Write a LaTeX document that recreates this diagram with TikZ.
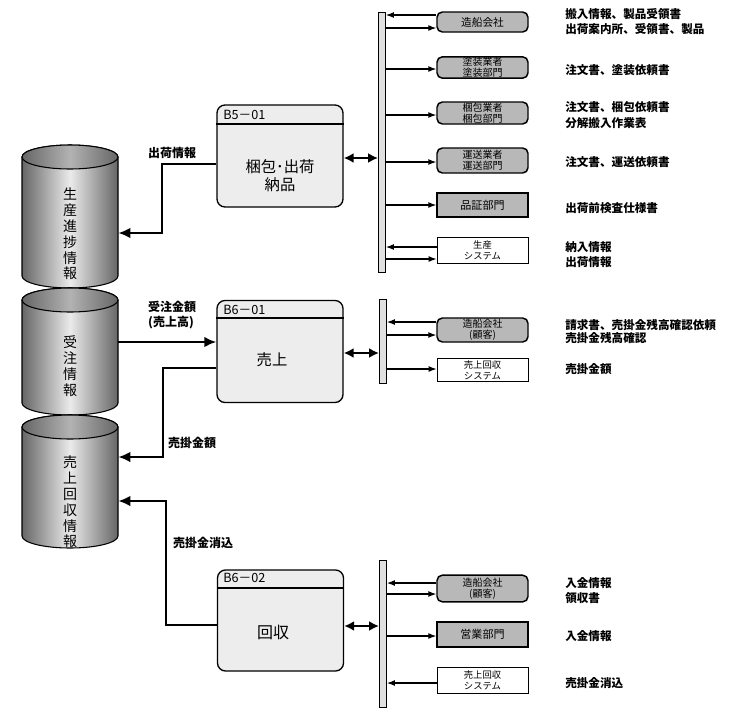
\documentclass[tikz,border=0pt]{standalone}
\usepackage{fontspec}
\setmainfont{Noto Sans CJK JP}
\usetikzlibrary{arrows.meta}
\newcommand\mycyl[2]{%
  \path[draw, line width=0.8pt, left color=black!60, right color=black!60, middle color=black!8]
    (22,#1) -- (22,#2) arc[start angle=180,end angle=360,x radius=36pt,y radius=9pt]
    -- (118,#1) arc[start angle=0,end angle=180,x radius=36pt,y radius=9pt] -- cycle;
  \path[draw, line width=0.8pt, left color=black!60, right color=black!60, middle color=black!30]
    (70,#1) ellipse[x radius=36pt, y radius=9pt];}
\tikzset{
  procbox/.style={draw, line width=1pt, rounded corners=6pt, fill=black!7, minimum width=94.5pt, minimum height=76.5pt, inner sep=0pt},
  exbase/.style={draw, minimum width=68.25pt, inner sep=0pt, align=center, font=\fontsize{7.5}{8}\selectfont},
  extround/.style={exbase, line width=1.1pt, rounded corners=4pt, fill=black!28},
  extrect/.style={exbase, line width=1.1pt, fill=black!28, font=\fontsize{8.3}{9}\selectfont},
  extwhite/.style={exbase, line width=0.7pt, fill=white, font=\fontsize{7}{8}\selectfont},
  barnode/.style={draw, line width=0.7pt, fill=black!12, minimum width=5.25pt, inner sep=0pt},
  thinarr/.style={line width=0.8pt, -{Latex[length=6pt,width=4.5pt]}},
  dblarr/.style={line width=1.8pt, {Latex[length=7.5pt,width=7.5pt]}-{Latex[length=7.5pt,width=7.5pt]}},
  bigarr/.style={line width=2.2pt, -{Latex[length=9pt,width=8pt]}},
  lbl/.style={font=\bfseries\fontsize{8.7}{10}\selectfont, anchor=west, inner sep=0pt},
  clbl/.style={font=\bfseries\fontsize{9}{11}\selectfont, inner sep=0pt, align=center},
  cyltext/.style={font=\fontsize{10.5}{11.9}\selectfont, align=center, minimum width=72pt, inner sep=0pt},
  hdr/.style={font=\fontsize{9.5}{10}\selectfont, anchor=west, inner sep=0pt},
  body/.style={font=\fontsize{11.5}{13.5}\selectfont, align=center, inner sep=0pt}
}
\begin{document}
\begin{tikzpicture}[x=0.75pt,y=-0.75pt]
\useasboundingbox (0,0) rectangle (739,722);
% cylinders
\mycyl{157}{276}
\mycyl{300}{403}
\mycyl{427}{536}
\node[cyltext] (cylA) at (70,234) {生\\産\\進\\捗\\情\\報};
\node[cyltext] (cylB) at (70,366) {受\\注\\情\\報};
\node[cyltext] (cylC) at (70,502) {売\\上\\回\\収\\情\\報};
% process boxes
\node[procbox] (b501) at (280,156) {};
\node[procbox] (b601) at (280,351.5) {};
\node[procbox, minimum height=75.75pt] (b602) at (280.5,620.5) {};
\draw[line width=0.8pt] (b501.west |- 0,124) -- (b501.east |- 0,124);
\draw[line width=0.8pt] (b601.west |- 0,318) -- (b601.east |- 0,318);
\draw[line width=0.8pt] (b602.west |- 0,588) -- (b602.east |- 0,588);
\node[hdr] (h501) at (223,115) {B5－01};
\node[hdr] (h601) at (223,310) {B6－01};
\node[hdr] (h602) at (223,578) {B6－02};
\node[body] (t501) at (280,176) {梱包･出荷\\納品};
\node[body] (t601) at (272,360) {売上};
\node[body, font=\fontsize{12}{13.5}\selectfont] (t602) at (273,632) {回収};
% bars
\node[barnode, minimum height=195pt] (bar1) at (382,142) {};
\node[barnode, minimum height=63pt] (bar2) at (383,341) {};
\node[barnode, minimum height=110.25pt] (bar3) at (383,633.5) {};
% double arrows
\draw[dblarr] (b501.east |- 0,158) -- (bar1.west |- 0,158);
\draw[dblarr] (b601.east |- 0,353) -- (bar2.west |- 0,353);
\draw[dblarr] (b602.east |- 0,626) -- (bar3.west |- 0,626);
% external boxes
\node[extround, minimum height=15pt, font=\fontsize{8}{9}\selectfont] (ship1) at (482.5,22) {造船会社};
\node[extround, minimum height=16pt] (paint) at (482.5,67.5) {塗装業者\\塗装部門};
\node[extround, minimum height=16.5pt] (pack) at (482.5,113) {梱包業者\\梱包部門};
\node[extround, minimum height=18.75pt] (trans) at (482.5,160.5) {運送業者\\運送部門};
\node[extrect, minimum height=18pt] (qa) at (482.5,205) {品証部門};
\node[extwhite, minimum height=20pt] (psys) at (482.5,250.5) {生産\\システム};
\node[extround, minimum height=18pt] (ship2) at (482.5,330) {造船会社\\(顧客)};
\node[extwhite, minimum height=17pt] (ssys1) at (482.5,370) {売上回収\\システム};
\node[extround, minimum height=20pt] (ship3) at (482.5,588.5) {造船会社\\(顧客)};
\node[extrect, minimum height=19pt] (sales) at (482.5,634.5) {営業部門};
\node[extwhite, minimum height=19.5pt] (ssys2) at (482.5,680) {売上回収\\システム};
% thin arrows
\draw[thinarr] (ship1.west |- 0,15) -- (bar1.east |- 0,15);
\draw[thinarr] (bar1.east |- 0,28) -- (ship1.west |- 0,28);
\draw[thinarr] (bar1.east |- 0,69) -- (paint.west |- 0,69);
\draw[thinarr] (bar1.east |- 0,115) -- (pack.west |- 0,115);
\draw[thinarr] (bar1.east |- 0,162) -- (trans.west |- 0,162);
\draw[thinarr] (bar1.east |- 0,205) -- (qa.west |- 0,205);
\draw[thinarr] (psys.west |- 0,247) -- (bar1.east |- 0,247);
\draw[thinarr] (bar1.east |- 0,259) -- (psys.west |- 0,259);
\draw[thinarr] (ship2.west |- 0,322) -- (bar2.east |- 0,322);
\draw[thinarr] (bar2.east |- 0,335) -- (ship2.west |- 0,335);
\draw[thinarr] (bar2.east |- 0,369) -- (ssys1.west |- 0,369);
\draw[thinarr] (ship3.west |- 0,583) -- (bar3.east |- 0,583);
\draw[thinarr] (bar3.east |- 0,594) -- (ship3.west |- 0,594);
\draw[thinarr] (bar3.east |- 0,636) -- (sales.west |- 0,636);
\draw[thinarr] (ssys2.west |- 0,683) -- (bar3.east |- 0,683);
% right labels
\node[lbl] (l1) at (565,14) {搬入情報、製品受領書};
\node[lbl] (l2) at (565,29) {出荷案内所、受領書、製品};
\node[lbl] (l3) at (565,70) {注文書、塗装依頼書};
\node[lbl] (l4) at (565,107) {注文書、梱包依頼書};
\node[lbl] (l5) at (565,123) {分解搬入作業表};
\node[lbl] (l6) at (565,162) {注文書、運送依頼書};
\node[lbl] (l7) at (565,208) {出荷前検査仕様書};
\node[lbl] (l8) at (565,247) {納入情報};
\node[lbl] (l9) at (565,262) {出荷情報};
\node[lbl] (l10) at (565,325) {請求書、売掛金残高確認依頼};
\node[lbl] (l11) at (565,338) {売掛金残高確認};
\node[lbl] (l12) at (565,369) {売掛金額};
\node[lbl] (l13) at (565,583) {入金情報};
\node[lbl] (l14) at (565,598) {領収書};
\node[lbl] (l15) at (565,636) {入金情報};
\node[lbl] (l16) at (565,683) {売掛金消込};
% left connectors
\draw[bigarr] (b501.west |- 0,164) -- (162,164) -- (162,233) -- (cylA.east |- 0,233);
\draw[bigarr] (cylB.east |- 0,342) -- (b601.west |- 0,342);
\draw[bigarr] (b601.west |- 0,368) -- (163,368) -- (163,457) -- (cylC.east |- 0,457);
\draw[bigarr] (b602.west |- 0,625) -- (166,625) -- (166,501) -- (cylC.east |- 0,501);
\node[clbl] (c1) at (172,153) {出荷情報};
\node[clbl] (c2) at (172,307) {受注金額};
\node[clbl] (c3) at (171,323) {(売上高)};
\node[clbl] (c4) at (192,443) {売掛金額};
\node[clbl] (c5) at (203,543) {売掛金消込};
\end{tikzpicture}
\end{document}
